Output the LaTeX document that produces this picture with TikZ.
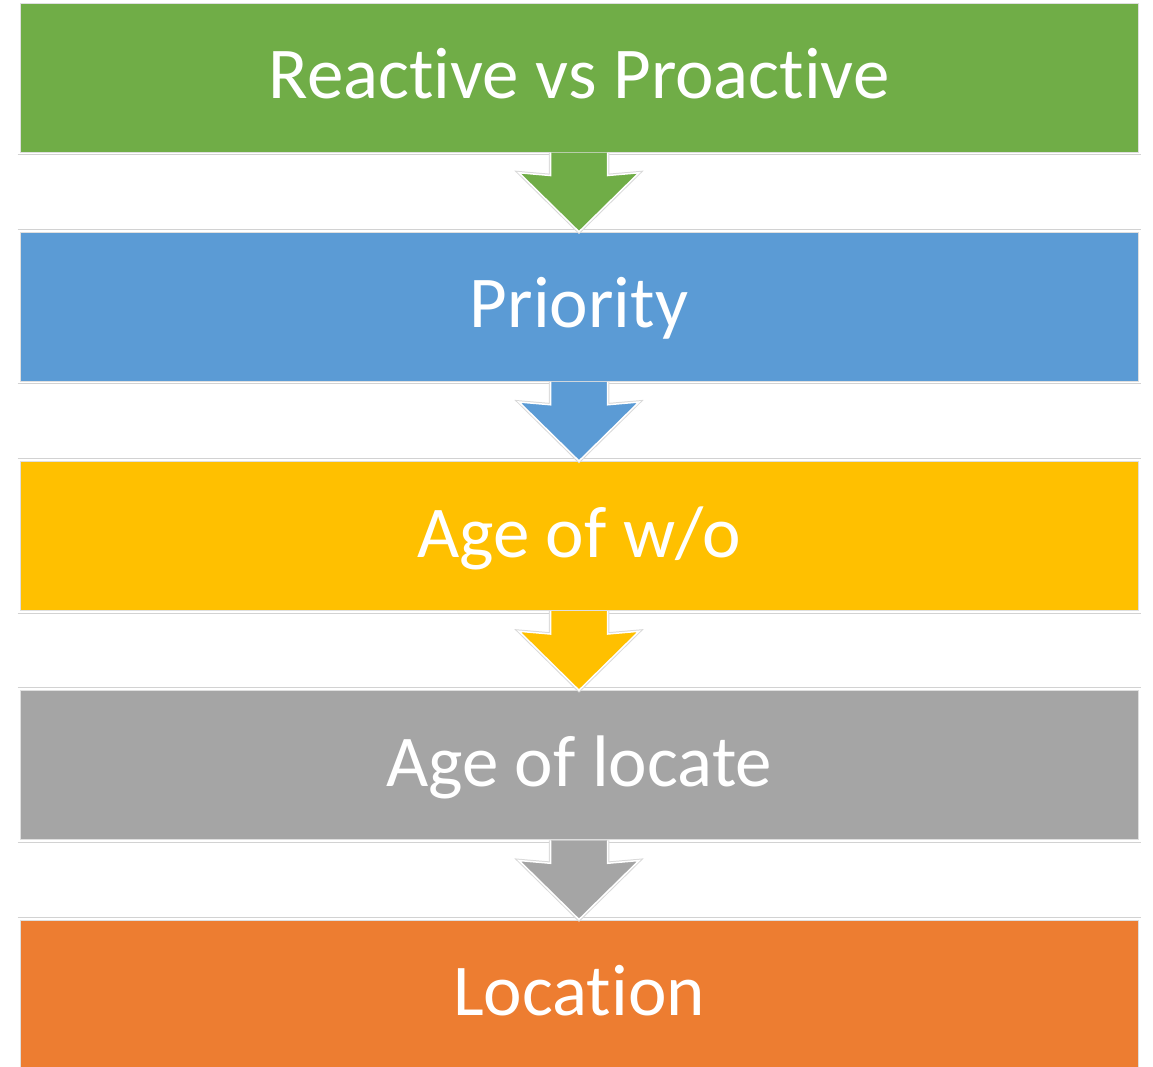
\documentclass[tikz,border=0pt]{standalone}
\usepackage{fontspec}
\setmainfont{Carlito}[Ligatures=NoCommon]
\usetikzlibrary{positioning,calc}
\definecolor{stagegreen}{HTML}{70AD47}
\definecolor{stageblue}{HTML}{5B9BD5}
\definecolor{stagegold}{HTML}{FFC000}
\definecolor{stagegray}{HTML}{A5A5A5}
\definecolor{stageorange}{HTML}{ED7D31}
\tikzset{
stage/.style={
	  draw=gray!25, line width=1pt, fill=#1, text=white,
	  minimum width=1118pt, minimum height=149pt, inner sep=0pt,
	  text height=50pt, text depth=8pt,
	  font=\fontsize{73}{86}\selectfont},
rule/.style={draw=gray!35, line width=1pt}
}
\newcommand{\stagearrow}[3]{%
	\filldraw[preaction={draw=gray!30, line width=3.5pt}, fill=#3, draw=white, line width=1.5pt]
	($(#1.south)+(-28.5,0)$) -- ($(#1.south)+(-28.5,-23)$) -- ($(#2.north)+(-60,59)$)
	-- (#2.north) -- ($(#2.north)+(60,59)$) -- ($(#1.south)+(28.5,-23)$) -- ($(#1.south)+(28.5,0)$);
}
\newcommand{\stagerules}[2]{%
	\draw[rule] ($(#1.south west)+(-2,-2)$) -- ($(#1.south east)+(2,-2)$);
	\draw[rule] ($(#2.north west)+(-2,2.5)$) -- ($(#2.north east)+(2,2.5)$);
}

\begin{document}
\begin{tikzpicture}[x=1pt, y=1pt, node distance=79.25pt]
	\useasboundingbox (0,-1066) rectangle (1153,0);
	\node[stage=stagegreen] (react) at (579,-77.5) {Reactive vs Proactive};
	\node[stage=stageblue, below=of react] (prio) {Priority};
	\node[stage=stagegold, below=of prio] (age) {Age of w/o};
	\node[stage=stagegray, below=of age] (locate) {Age of locate};
	\node[stage=stageorange, below=of locate] (loc) {Location};
	% thin lines between the stages
	\stagerules{react}{prio}
	\stagerules{prio}{age}
	\stagerules{age}{locate}
	\stagerules{locate}{loc}
	% block arrows
	\stagearrow{react}{prio}{stagegreen}
	\stagearrow{prio}{age}{stageblue}
	\stagearrow{age}{locate}{stagegold}
	\stagearrow{locate}{loc}{stagegray}
\end{tikzpicture}
\end{document}
